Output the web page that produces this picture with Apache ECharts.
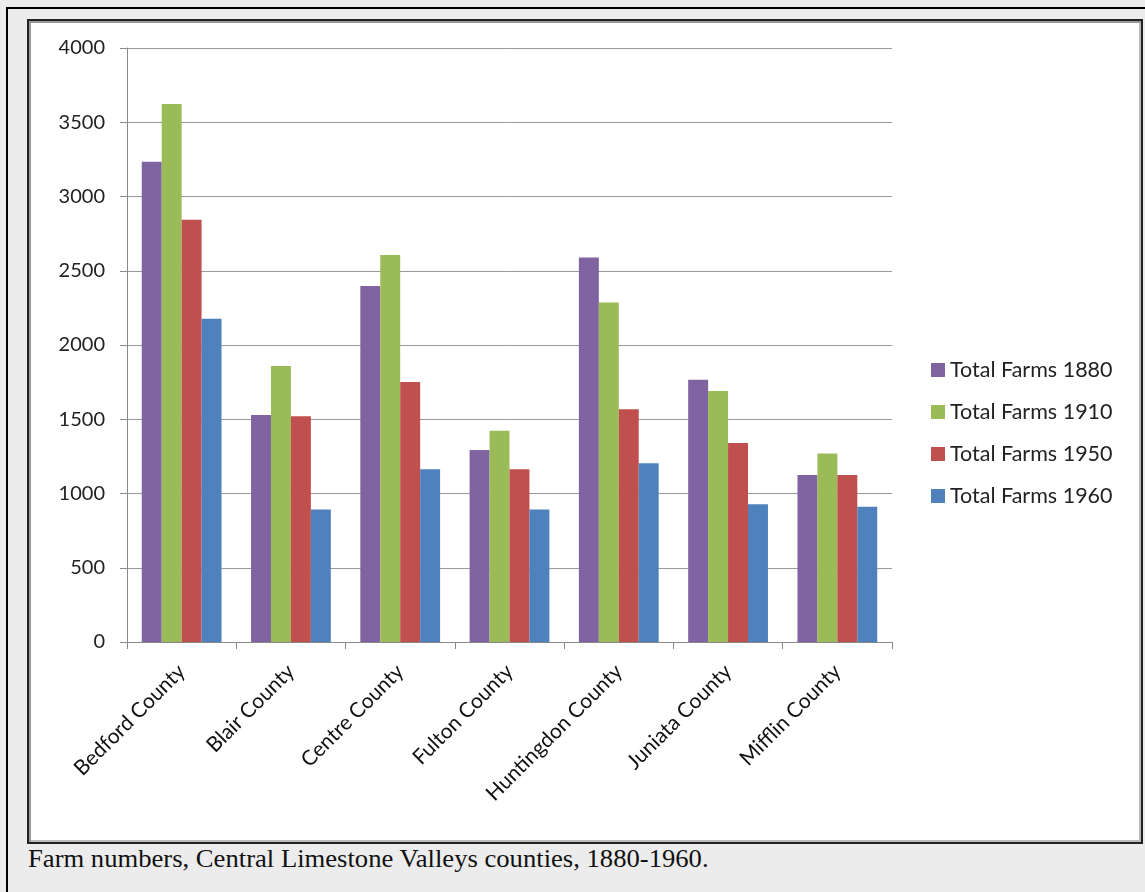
<!DOCTYPE html>
<html lang="en">
<head>
  <meta charset="UTF-8">
  <title>Farm numbers, Central Limestone Valleys counties</title>
  <style type="text/css">
    body {
      margin: 0;
      background: #ececec;
      width: 1145px;
      height: 892px;
      overflow: hidden;
      position: relative;
    }
    .outer {
      position: absolute;
      left: 6px;
      top: 7px;
      width: 1200px;
      height: 950px;
      border-left: 2px solid #000;
      border-top: 2px solid #000;
    }
    .inner {
      position: absolute;
      left: 27px;
      top: 19px;
      width: 1112px;
      height: 821px;
      background: #fff;
      border: 2px solid #222;
      box-shadow: inset 1px 1px 0 1px #999, inset -1px -1px 0 1px #bbb;
    }
    .caption {
      position: absolute;
      left: 28px;
      top: 845px;
      font-family: "Liberation Serif", "Times New Roman", serif;
      font-size: 25px;
      color: #111;
      white-space: nowrap;
      transform: scaleX(1.065);
      transform-origin: left top;
    }
    #mainChart {
      position: absolute;
      left: 0;
      top: 0;
      width: 1145px;
      height: 892px;
    }
  </style>
</head>
<body>
  <div class="outer"></div>
  <div class="inner"></div>
  <div class="caption">Farm numbers, Central Limestone Valleys counties, 1880-1960.</div>
  <div id="mainChart"></div>
</body>
<script type="text/javascript" src="https://cdn.jsdelivr.net/npm/echarts@6/dist/echarts.min.js"></script>
<script type="text/javascript">
  // data
  var counties = ['Bedford County', 'Blair County', 'Centre County', 'Fulton County',
    'Huntingdon County', 'Juniata County', 'Mifflin County'];
  var farms1880 = [3234, 1529, 2397, 1293, 2590, 1766, 1124];
  var farms1910 = [3623, 1859, 2606, 1423, 2287, 1690, 1270];
  var farms1950 = [2844, 1520, 1751, 1163, 1567, 1340, 1124];
  var farms1960 = [2177, 893, 1163, 893, 1203, 927, 911];
  var yTicks = [0, 500, 1000, 1500, 2000, 2500, 3000, 3500, 4000];

  var font = 'Lato, "Open Sans", sans-serif';
  var myChart = echarts.init(document.getElementById('mainChart'));

  function bar(name, data, color) {
    return {
      name: name,
      type: 'bar',
      data: data,
      barGap: '0%',
      barCategoryGap: '27%',
      itemStyle: { color: color }
    };
  }

  var option = {
    animation: false,
    backgroundColor: 'transparent',
    textStyle: { fontFamily: font },
    grid: { left: 127, top: 48, right: 253, bottom: 250 },
    legend: {
      orient: 'vertical',
      left: 926,
      top: 354,
      itemWidth: 14,
      itemHeight: 14,
      itemGap: 20,
      icon: 'rect',
      textStyle: { fontFamily: font, fontSize: 21.5, color: '#222', lineHeight: 22 },
      data: ['Total Farms 1880', 'Total Farms 1910', 'Total Farms 1950', 'Total Farms 1960']
    },
    xAxis: {
      type: 'category',
      data: counties,
      axisLine: { lineStyle: { color: '#888', width: 1 } },
      axisTick: { show: true, length: 7, lineStyle: { color: '#888' } },
      axisLabel: { rotate: 45, fontSize: 21, color: '#111', margin: 26, fontFamily: font }
    },
    yAxis: {
      type: 'value',
      min: yTicks[0],
      max: yTicks[yTicks.length - 1],
      interval: 500,
      axisLine: { show: true, lineStyle: { color: '#888', width: 1 } },
      axisTick: { show: true, length: 7, lineStyle: { color: '#888' } },
      axisLabel: {
        fontSize: 20, color: '#222', margin: 22, fontFamily: font,
        formatter: function (v) { return String(v); }
      },
      splitLine: { lineStyle: { color: '#999', width: 1 } }
    },
    series: [
      bar('Total Farms 1880', farms1880, '#8064a2'),
      bar('Total Farms 1910', farms1910, '#9bbb59'),
      bar('Total Farms 1950', farms1950, '#c0504d'),
      bar('Total Farms 1960', farms1960, '#4f81bd')
    ]
  };
  myChart.setOption(option);
</script>
</html>
